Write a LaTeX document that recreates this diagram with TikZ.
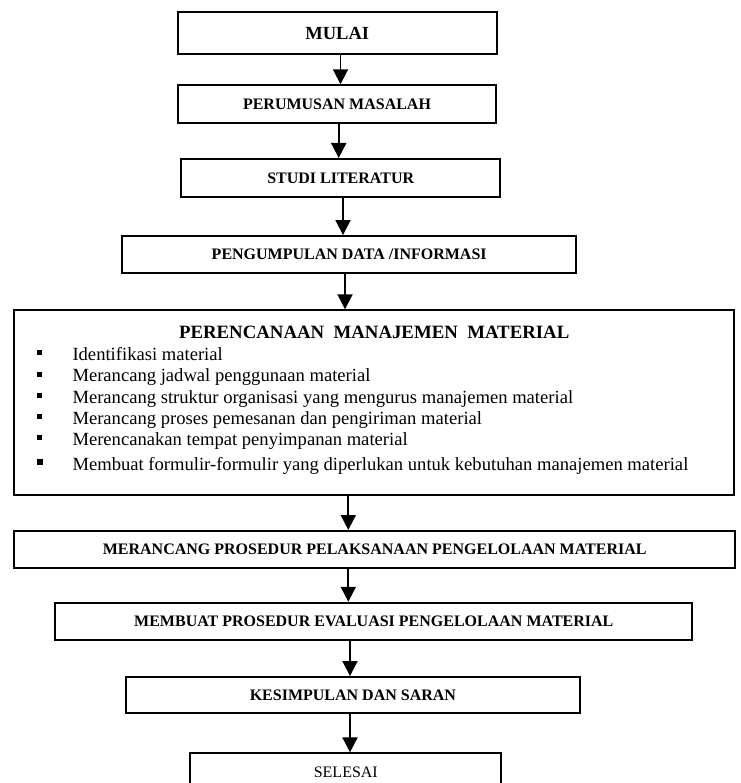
\documentclass[tikz,border=0pt]{standalone}
\usepackage{fontspec}
\setmainfont{Liberation Serif}
\usetikzlibrary{arrows.meta}
\tikzset{
  box/.style={draw, line width=1.9pt, inner sep=0pt, align=center,
    font=\bfseries\fontsize{16}{19}\selectfont},
  plainbox/.style={box, font=\fontsize{16}{19}\selectfont},
  bigfont/.style={font=\bfseries\fontsize{18.5}{22}\selectfont},
  arr/.style={line width=1.9pt, -{Triangle[length=15pt,width=15pt]}},
  itemtext/.style={anchor=base west, inner sep=0pt, font=\fontsize{18.6}{22}\selectfont},
  bul/.style={fill=black, inner sep=0pt, minimum size=5pt},
  bigbul/.style={bul, minimum size=6.3pt},
  titletext/.style={anchor=base, inner sep=0pt, font=\bfseries\fontsize{18.8}{22}\selectfont}
}
\begin{document}
\begin{tikzpicture}[x=1pt,y=-1pt]
\useasboundingbox (0,0) rectangle (740,783);
\clip (0,0) rectangle (740,783);

% boxes
\node[box, bigfont, minimum width=319.1pt, minimum height=42.7pt] (mulai) at (337.2,33) {MULAI};
\node[box, minimum width=318.7pt, minimum height=38.1pt] (rumus) at (337,104.3) {PERUMUSAN MASALAH};
\node[box, minimum width=318.8pt, minimum height=38.1pt] (studi) at (340.7,178) {STUDI LITERATUR};
\node[box, minimum width=453.8pt, minimum height=37.4pt] (data) at (349.2,254.7) {PENGUMPULAN DATA /INFORMASI};
\node[box, minimum width=719.8pt, minimum height=184.3pt] (plan) at (374.2,402.4) {};
\node[box, minimum width=720.8pt, minimum height=37.1pt] (proc) at (374.7,549.5) {MERANCANG PROSEDUR PELAKSANAAN PENGELOLAAN MATERIAL};
\node[box, minimum width=637.1pt, minimum height=37.4pt] (eval) at (373.8,621.4) {MEMBUAT PROSEDUR EVALUASI PENGELOLAAN MATERIAL};
\node[box, minimum width=453.8pt, minimum height=36.4pt] (kes) at (352.9,695.2) {KESIMPULAN DAN SARAN};
\node[plainbox, minimum width=311.1pt, minimum height=38.8pt] (end) at (345.8,772.7) {SELESAI};

% contents of the planning box
\node[titletext] (ptitle) at (374.2,338.3) {PERENCANAAN\ \ MANAJEMEN\ \ MATERIAL};
\node[itemtext] (i1) at (72.3,360) {Identifikasi material};
\node[itemtext] (i2) at (72.3,381.7) {Merancang jadwal penggunaan material};
\node[itemtext] (i3) at (72.3,403.3) {Merancang struktur organisasi yang mengurus manajemen material};
\node[itemtext] (i4) at (72.3,424) {Merancang proses pemesanan dan pengiriman material};
\node[itemtext] (i5) at (72.3,445) {Merencanakan tempat penyimpanan material};
\node[itemtext] (i6) at (72.3,470.7) {Membuat formulir-formulir yang diperlukan untuk kebutuhan manajemen material};
\node[bul] (b1) at (39.2,352.3) {};
\node[bul] (b2) at (39.2,374) {};
\node[bul] (b3) at (39.2,395.7) {};
\node[bul] (b4) at (39.2,416.7) {};
\node[bul] (b5) at (39.2,437.3) {};
\node[bigbul] (b6) at (40,462.3) {};

% arrow columns
\coordinate (x1) at (340.5,0);
\coordinate (x2) at (338.7,0);
\coordinate (x3) at (343,0);
\coordinate (x4) at (345,0);
\coordinate (x5) at (348.3,0);
\coordinate (x6) at (348.3,0);
\coordinate (x7) at (350,0);
\coordinate (x8) at (350,0);

\draw[arr] (mulai.south -| x1) -- (rumus.north -| x1);
\draw[arr] (rumus.south -| x2) -- (studi.north -| x2);
\draw[arr] (studi.south -| x3) -- (data.north -| x3);
\draw[arr] (data.south -| x4) -- (plan.north -| x4);
\draw[arr] (plan.south -| x5) -- (proc.north -| x5);
\draw[arr] (proc.south -| x6) -- (eval.north -| x6);
\draw[arr] (eval.south -| x7) -- (kes.north -| x7);
\draw[arr] (kes.south -| x8) -- (end.north -| x8);
\end{tikzpicture}
\end{document}
